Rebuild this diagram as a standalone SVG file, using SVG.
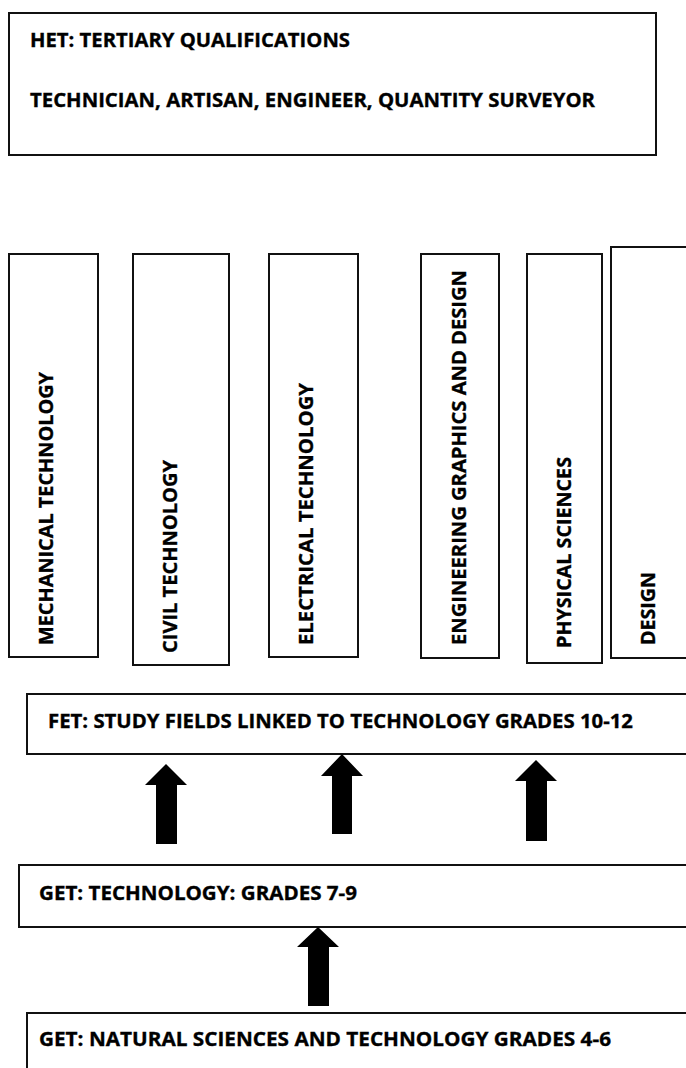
<svg xmlns="http://www.w3.org/2000/svg" width="686" height="1068" viewBox="0 0 686 1068">
<style>
.box{fill:#fff;stroke:#111;stroke-width:2}
.t{font-family:"Open Sans","Liberation Sans",sans-serif;font-weight:bold;font-size:20px;fill:#000;stroke:#000;stroke-width:0.35}
.arrow{fill:#000}
</style>
<rect width="686" height="1068" fill="#fff"/>
<g id="het">
<rect class="box" x="9" y="13" width="647" height="142"/>
<text class="t" x="30" y="47" textLength="320" lengthAdjust="spacingAndGlyphs">HET: TERTIARY QUALIFICATIONS</text>
<text class="t" x="30" y="107" textLength="565" lengthAdjust="spacingAndGlyphs">TECHNICIAN, ARTISAN, ENGINEER, QUANTITY SURVEYOR</text>
</g>
<g id="mechanical">
<rect class="box" x="9" y="254" width="89" height="403"/>
<text class="t" transform="translate(53,645) rotate(-90)" textLength="273" lengthAdjust="spacingAndGlyphs">MECHANICAL TECHNOLOGY</text>
</g>
<g id="civil">
<rect class="box" x="133" y="254" width="96" height="411"/>
<text class="t" transform="translate(177,653) rotate(-90)" textLength="193" lengthAdjust="spacingAndGlyphs">CIVIL TECHNOLOGY</text>
</g>
<g id="electrical">
<rect class="box" x="269" y="254" width="89" height="403"/>
<text class="t" transform="translate(313,645) rotate(-90)" textLength="262" lengthAdjust="spacingAndGlyphs">ELECTRICAL TECHNOLOGY</text>
</g>
<g id="egd">
<rect class="box" x="421" y="254" width="78" height="404"/>
<text class="t" transform="translate(466,645) rotate(-90)" textLength="375" lengthAdjust="spacingAndGlyphs">ENGINEERING GRAPHICS AND DESIGN</text>
</g>
<g id="physical">
<rect class="box" x="527" y="254" width="75" height="409"/>
<text class="t" transform="translate(571,648) rotate(-90)" textLength="191" lengthAdjust="spacingAndGlyphs">PHYSICAL SCIENCES</text>
</g>
<g id="design">
<rect class="box" x="611" y="247" width="90" height="411"/>
<text class="t" transform="translate(655,645) rotate(-90)" textLength="73" lengthAdjust="spacingAndGlyphs">DESIGN</text>
</g>
<g id="fet">
<rect class="box" x="27" y="694" width="680" height="60"/>
<text class="t" x="48" y="728" textLength="585" lengthAdjust="spacingAndGlyphs">FET: STUDY FIELDS LINKED TO TECHNOLOGY GRADES 10-12</text>
</g>
<g id="get79">
<rect class="box" x="19" y="865" width="690" height="62"/>
<text class="t" x="39" y="900" textLength="318" lengthAdjust="spacingAndGlyphs">GET: TECHNOLOGY: GRADES 7-9</text>
</g>
<g id="get46">
<rect class="box" x="27" y="1013" width="680" height="80"/>
<text class="t" x="39" y="1046" textLength="572" lengthAdjust="spacingAndGlyphs">GET: NATURAL SCIENCES AND TECHNOLOGY GRADES 4-6</text>
</g>
<g id="connectors">
<polygon class="arrow" points="166,764 187,785 177,785 177,844 156,844 156,785 145,785"/>
<polygon class="arrow" points="342,754 363,776 352,776 352,834 332,834 332,776 321,776"/>
<polygon class="arrow" points="536,760 557,781 547,781 547,841 526,841 526,781 515,781"/>
<polygon class="arrow" points="318,927 339,947 329,947 329,1006 308,1006 308,947 297,947"/>
</g>
</svg>
